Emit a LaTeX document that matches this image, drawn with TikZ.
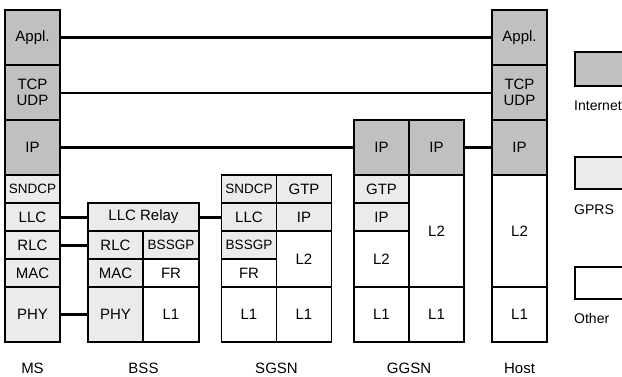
\documentclass[tikz,border=0pt]{standalone}
\usepackage{fontspec}
\setmainfont{Liberation Sans}
\definecolor{inetgray}{HTML}{C0C0C0}
\definecolor{gprsgray}{HTML}{EBEBEB}
\begin{document}
\begin{tikzpicture}[x=1pt, y=-1pt, font=\fontsize{15}{16.5}\selectfont,
  box/.style={draw, line width=1.6pt, inner sep=0pt, align=center,
    minimum width=55, minimum height=55},
  half/.style={minimum height=28},
  inet/.style={box, fill=inetgray},
  gprs/.style={box, fill=gprsgray},
  other/.style={box, fill=white},
  narrow/.style={font=\fontsize{13.5}{15}\selectfont},
  keytext/.style={anchor=west, inner sep=0pt, font=\fontsize{14}{15}\selectfont},
  link/.style={line width=3pt},
  thinlink/.style={line width=2pt}]
\useasboundingbox (0,0) rectangle (622,376);
% MS
\node[inet] (MS_Appl) at (32.5,37.5) {Appl.};
\node[inet] (MS_TCP) at (32.5,92.5) {TCP\\UDP};
\node[inet] (MS_IP) at (32.5,147.5) {IP};
\node[gprs, half, narrow] (MS_SNDCP) at (32.5,189) {SNDCP};
\node[gprs, half] (MS_LLC) at (32.5,217) {LLC};
\node[gprs, half] (MS_RLC) at (32.5,245) {RLC};
\node[gprs, half] (MS_MAC) at (32.5,273) {MAC};
\node[gprs] (MS_PHY) at (32.5,314.5) {PHY};
% BSS
\node[gprs, half, minimum width=111] (BSS_LLC) at (143.5,217) {LLC Relay};
\node[gprs, half] (BSS_RLC) at (115.5,245) {RLC};
\node[gprs, half, minimum width=56, narrow] (BSS_BSSGP) at (171,245) {BSSGP};
\node[gprs, half] (BSS_MAC) at (115.5,273) {MAC};
\node[other, half, minimum width=56] (BSS_FR) at (171,273) {FR};
\node[gprs] (BSS_PHY) at (115.5,314.5) {PHY};
\node[other, minimum width=56] (BSS_L1) at (171,314.5) {L1};
% SGSN
\node[gprs, half, narrow] (SGSN_SNDCP) at (249,189) {SNDCP};
\node[gprs, half] (SGSN_GTP) at (304,189) {GTP};
\node[gprs, half] (SGSN_LLC) at (249,217) {LLC};
\node[gprs, half] (SGSN_IP) at (304,217) {IP};
\node[gprs, half, narrow] (SGSN_BSSGP) at (249,245) {BSSGP};
\node[other, minimum height=56] (SGSN_L2) at (304,259) {L2};
\node[other, half] (SGSN_FR) at (249,273) {FR};
\node[other] (SGSN_L1a) at (249,314.5) {L1};
\node[other] (SGSN_L1b) at (304,314.5) {L1};
% GGSN
\node[inet] (GGSN_IPa) at (381.5,147.5) {IP};
\node[inet] (GGSN_IPb) at (436.5,147.5) {IP};
\node[gprs, half] (GGSN_GTP) at (381.5,189) {GTP};
\node[gprs, half] (GGSN_IP) at (381.5,217) {IP};
\node[other, minimum height=56] (GGSN_L2a) at (381.5,259) {L2};
\node[other, minimum height=112] (GGSN_L2b) at (436.5,231) {L2};
\node[other] (GGSN_L1a) at (381.5,314.5) {L1};
\node[other] (GGSN_L1b) at (436.5,314.5) {L1};
% Host
\node[inet] (Host_Appl) at (519.5,37.5) {Appl.};
\node[inet] (Host_TCP) at (519.5,92.5) {TCP\\UDP};
\node[inet] (Host_IP) at (519.5,147.5) {IP};
\node[other, minimum height=112] (Host_L2) at (519.5,231) {L2};
\node[other] (Host_L1) at (519.5,314.5) {L1};
% peer links
\draw[link] (MS_Appl) -- (Host_Appl);
\draw[thinlink] (MS_TCP) -- (Host_TCP);
\draw[link] (MS_IP) -- (GGSN_IPa);
\draw[link] (GGSN_IPb) -- (Host_IP);
\draw[link] (MS_LLC) -- (BSS_LLC);
\draw[link] (BSS_LLC) -- (SGSN_LLC);
\draw[link] (MS_RLC) -- (BSS_RLC);
\draw[link] (MS_PHY) -- (BSS_PHY);
% names
\node (L_MS) at (32.5,368) {MS};
\node (L_BSS) at (143.5,368) {BSS};
\node (L_SGSN) at (276.5,368) {SGSN};
\node (L_GGSN) at (409,368) {GGSN};
\node (L_Host) at (519.5,368) {Host};
% legend
\node[inet, minimum width=70, minimum height=34] (Key_Inet) at (610,69) {};
\node[keytext] (Key_InetL) at (574,106) {Internet};
\node[gprs, minimum width=70, minimum height=32] (Key_GPRS) at (610,173) {};
\node[keytext] (Key_GPRSL) at (574,210) {GPRS};
\node[other, minimum width=70, minimum height=32] (Key_Other) at (610,283) {};
\node[keytext] (Key_OtherL) at (574,318) {Other};
\end{tikzpicture}
\end{document}
